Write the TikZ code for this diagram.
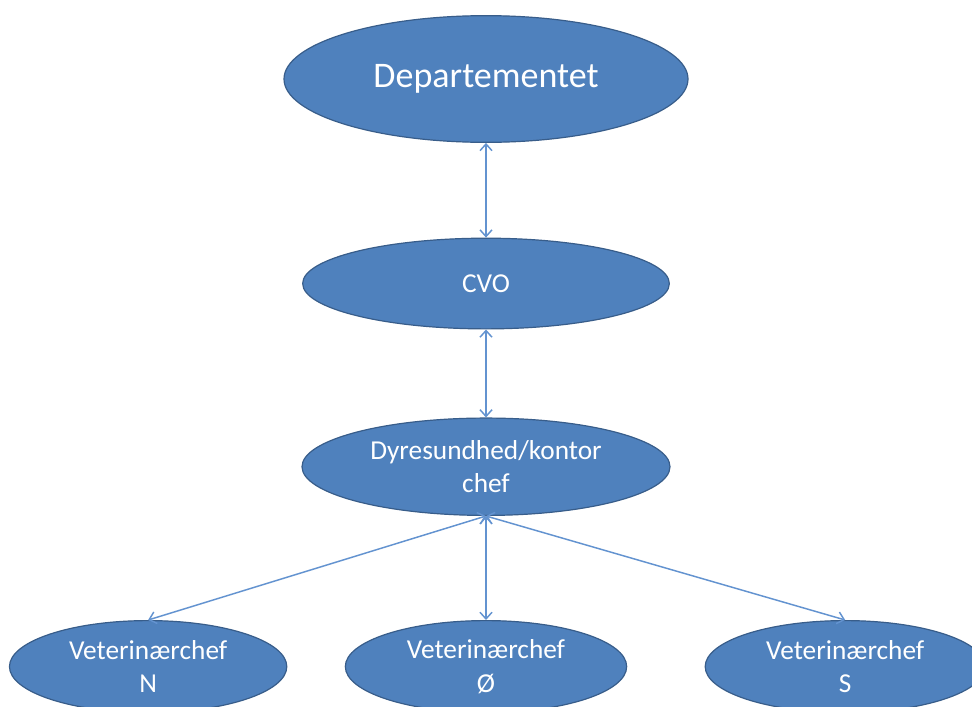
\documentclass[tikz,border=0pt]{standalone}
\usepackage{fontspec}
\setmainfont{Carlito}
\usepackage{tikz}
\usetikzlibrary{positioning, arrows.meta, shapes.geometric}

\definecolor{boxblue}{HTML}{4F81BD}
\definecolor{rimblue}{HTML}{385D8A}
\definecolor{linkblue}{HTML}{6393D0}

\begin{document}
\begin{tikzpicture}[x=0.75pt, y=-0.75pt,
        unit/.style={ellipse, draw=rimblue, line width=0.9pt, fill=boxblue,
            text=white, inner sep=0pt, align=center,
            font=\fontsize{20.5}{25}\selectfont},
        link/.style={draw=linkblue, line width=1.1pt,
            {Straight Barb[length=5pt, width=9pt]}-{Straight Barb[length=5pt, width=9pt]}}
    ]
    \clip (0,0) rectangle (972,707);
    \fill[white] (0,0) rectangle (972,707);

    \node[unit, minimum width=303pt, minimum height=95pt,
        font=\fontsize{27}{32}\selectfont] (dept) at (486,79) {Departementet};
    \node[unit, minimum width=275pt, minimum height=68pt,
        below=71pt of dept] (cvo) {CVO};
    \node[unit, minimum width=276pt, minimum height=73pt,
        below=66pt of cvo] (dyr) {Dyresundhed/kontor\\chef};

    \node[unit, minimum width=211pt, minimum height=69pt,
        below=78pt of dyr] (vetO) {Veterinærchef\\Ø};
    \node[unit, minimum width=208pt, minimum height=69pt,
        left=43pt of vetO] (vetN) {Veterinærchef\\N};
    \node[unit, minimum width=210pt, minimum height=69pt,
        right=58pt of vetO] (vetS) {Veterinærchef\\S};

    \draw[link] (dept.south) -- (cvo.north);
    \draw[link] (cvo.south) -- (dyr.north);
    \draw[link] (dyr.south) -- (vetN.north);
    \draw[link] (dyr.south) -- (vetO.north);
    \draw[link] (dyr.south) -- (vetS.north);
\end{tikzpicture}
\end{document}
